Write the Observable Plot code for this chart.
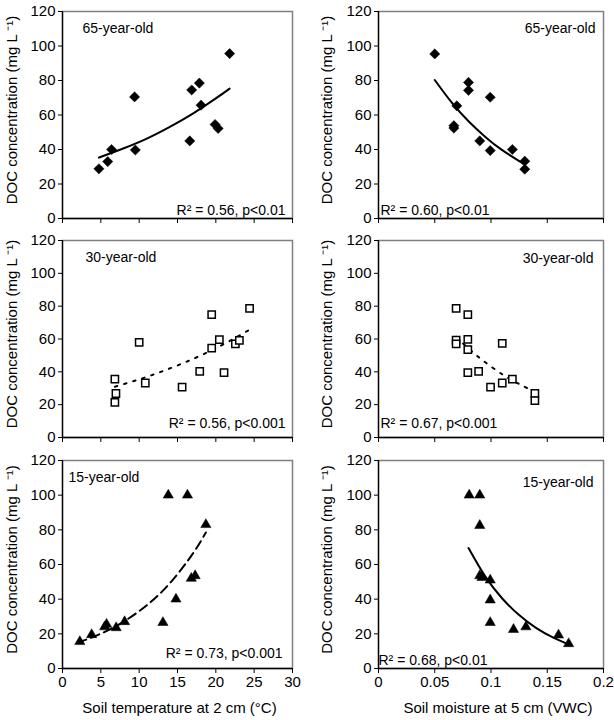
<!DOCTYPE html>
<html><head><meta charset="utf-8">
<script src="https://cdn.jsdelivr.net/npm/d3@7"></script>
<script src="https://cdn.jsdelivr.net/npm/@observablehq/plot@0.6"></script>
<style>
body{margin:0;background:#fff;}
#wrap{position:relative;width:614px;height:720px;overflow:hidden;font-family:Arial,"Liberation Sans",sans-serif;}
#wrap svg{position:absolute;overflow:visible;}
</style></head><body><div id="wrap"></div>
<script>
// ---- data ----
const yTicks = [0, 20, 40, 60, 80, 100, 120];
const tempTicks = [0, 5, 10, 15, 20, 25, 30];
const moistTicks = [0, 0.05, 0.1, 0.15, 0.2];

const yTitle = "DOC concentration (mg L \u207B\u00B9)";
const xTitleTemp = "Soil temperature at 2 cm (\u00B0C)";
const xTitleMoist = "Soil moisture at 5 cm (VWC)";

const stands = ["65-year-old", "30-year-old", "15-year-old"];
const statsTemp = ["R\u00B2 = 0.56, p<0.01", "R\u00B2 = 0.56, p<0.001", "R\u00B2 = 0.73, p<0.001"];
const statsMoist = ["R\u00B2 = 0.60, p<0.01", "R\u00B2 = 0.67, p<0.001", "R\u00B2 = 0.68, p<0.01"];

// 65-year-old
const temp65 = [4.75, 5.9, 6.4, 9.4, 9.5, 16.6, 16.85, 17.85, 18.07, 19.9, 20.3, 21.8];
const docT65 = [28.8, 33, 40, 70.5, 39.7, 45, 74.5, 78.5, 65.7, 54.5, 52.2, 95.6];
const moist65 = [0.05, 0.067, 0.067, 0.0696, 0.08, 0.08, 0.09, 0.0993, 0.0993, 0.119, 0.13, 0.13];
const docM65 = [95.4, 53.8, 52.4, 65.3, 78.9, 74.3, 45, 70.3, 39.4, 40, 33.2, 28.6];
// 30-year-old
const temp30 = [6.83, 6.97, 6.83, 10.0, 10.8, 15.6, 17.9, 19.46, 19.46, 20.46, 21.07, 22.55, 23.07, 24.4];
const docT30 = [35.6, 26.8, 21.4, 58.0, 33.2, 30.7, 40.3, 74.8, 54.5, 59.6, 39.5, 57.0, 59.1, 78.6];
const moist30 = [0.069, 0.069, 0.069, 0.0794, 0.0794, 0.0794, 0.0794, 0.089, 0.0996, 0.11, 0.11, 0.119, 0.139, 0.139];
const docM30 = [78.6, 59.3, 57.0, 74.8, 59.8, 53.5, 39.5, 40.3, 30.7, 57.4, 33.2, 35.6, 26.8, 22.4];
// 15-year-old
const temp15 = [2.26, 3.8, 5.5, 5.75, 7.0, 8.1, 13.1, 13.8, 14.8, 16.3, 16.8, 17.3, 18.7];
const docT15 = [15.5, 19.5, 24, 25.5, 23.5, 27, 26.5, 100, 40, 100, 52, 53.5, 83];
const moist15 = [0.0806, 0.09, 0.09, 0.09, 0.092, 0.0993, 0.0993, 0.0993, 0.12, 0.131, 0.16, 0.169];
const docM15 = [100, 100, 82.5, 53.5, 52.5, 51, 39.5, 26.5, 22.5, 24, 19.3, 14.3];

// trend curves, points
const trendXT65 = [4.75, 8, 11, 14, 17, 20, 21.8];
const trendYT65 = [35.3, 40.7, 46.3, 53.1, 60.8, 69.6, 75.3];
const trendXM65 = [0.05, 0.065, 0.08, 0.095, 0.11, 0.13];
const trendYM65 = [80.3, 67.3, 56.4, 47.3, 39.6, 31.3];
const trendXT30 = [6.83, 10, 13, 16, 19, 22, 24.4];
const trendYT30 = [30.9, 35.4, 40.3, 45.8, 52.1, 59.3, 65.7];
const trendXM30 = [0.069, 0.08, 0.09, 0.1, 0.11, 0.12, 0.139];
const trendYM30 = [61.4, 54.2, 48.4, 43.2, 38.5, 34.4, 27.7];
const trendXT15 = [2, 5, 8, 11, 14, 17, 18.7];
const trendYT15 = [14.9, 20.1, 27.1, 36.5, 49.2, 66.3, 78.5];
const trendXM15 = [0.08, 0.095, 0.11, 0.125, 0.14, 0.155, 0.17];
const trendYM15 = [69.5, 53.0, 40.4, 30.8, 23.4, 17.9, 13.6];

// ---- layout ----
const wrap = document.getElementById("wrap");
const zip = (xs, ys) => xs.map((x, i) => ({x, y: ys[i]}));
const cols = [
  {left: 0, width: 307, mL: 62, mR: 15, domain: [0, 30], ticks: tempTicks, fmt: d => String(d), xTitle: xTitleTemp, xTitleDx: 2, yDx: -50,
   nameAnchor: "top-left", nameTA: "start", statAnchor: "bottom-right", statTA: "end"},
  {left: 307, width: 307, mL: 71, mR: 11, domain: [0, 0.2], ticks: moistTicks, fmt: d => String(+d.toFixed(2)), xTitle: xTitleMoist, xTitleDx: 7, yDx: -51,
   nameAnchor: "top-right", nameTA: "end", statAnchor: "bottom-left", statTA: "start"}
];
const rows = [
  {top: 0, height: 230, mT: 11, mB: 12},
  {top: 230, height: 225, mT: 10, mB: 18},
  {top: 450, height: 270, mT: 10, mB: 52}
];
const panels = [
  // row, col, points, trend, symbol, nameDx, nameDy, statDx, statDy, dash
  {row: 0, col: 0, pts: zip(temp65, docT65), tr: zip(trendXT65, trendYT65), sym: "diamond", nameDx: 20, nameDy: 17, statDx: -7, statDy: -8, dash: null, name: stands[0], stat: statsTemp[0]},
  {row: 0, col: 1, pts: zip(moist65, docM65), tr: zip(trendXM65, trendYM65), sym: "diamond", nameDx: -8, nameDy: 17, statDx: 2, statDy: -8, dash: null, name: stands[0], stat: statsMoist[0]},
  {row: 1, col: 0, pts: zip(temp30, docT30), tr: zip(trendXT30, trendYT30), sym: "square", nameDx: 23, nameDy: 17, statDx: -7, statDy: -14, dash: "2.5,7", name: stands[1], stat: statsTemp[1]},
  {row: 1, col: 1, pts: zip(moist30, docM30), tr: zip(trendXM30, trendYM30), sym: "square", nameDx: -10, nameDy: 18, statDx: 2, statDy: -14, dash: "2.5,7", name: stands[1], stat: statsMoist[1]},
  {row: 2, col: 0, pts: zip(temp15, docT15), tr: zip(trendXT15, trendYT15), sym: "triangle", nameDx: 6, nameDy: 17, statDx: -10, statDy: -15, dash: "9,5", name: stands[2], stat: statsTemp[2]},
  {row: 2, col: 1, pts: zip(moist15, docM15), tr: zip(trendXM15, trendYM15), sym: "triangle", nameDx: -10, nameDy: 22, statDx: 0, statDy: -8, dash: null, name: stands[2], stat: statsMoist[2]}
];

for (const p of panels) {
  const c = cols[p.col], r = rows[p.row];
  const bottomRow = p.row === 2;
  const dotOpts = p.sym === "diamond" ? {symbol: "diamond2", r: 4.6, fill: "black", stroke: "black", strokeWidth: 0.5}
                : p.sym === "square" ? {symbol: "square", r: 4.1, fill: "white", stroke: "black", strokeWidth: 1.5}
                : {symbol: "triangle", r: 3.8, fill: "black", stroke: "black", strokeWidth: 0.5};
  const marks = [
    Plot.frame({stroke: "#808080", strokeWidth: 1.5}),
    Plot.ruleX([c.domain[0]], {stroke: "black", strokeWidth: 1.3}),
    Plot.ruleY([0], {stroke: "black", strokeWidth: 1.3}),
    Plot.axisY({ticks: yTicks, tickSize: 4, tickPadding: 3, fontSize: 15, tickFormat: d => String(d)}),
    Plot.axisX({ticks: c.ticks, tickSize: 5, tickPadding: 3, fontSize: 15, tickFormat: bottomRow ? c.fmt : () => ""}),
    Plot.text([yTitle], {frameAnchor: "left", rotate: -90, textAnchor: "middle", lineAnchor: "middle", dx: c.yDx, dy: -5, fontSize: 15}),
    Plot.line(p.tr, {x: "x", y: "y", curve: "natural", stroke: "black", strokeWidth: 2, strokeDasharray: p.dash ?? undefined}),
    Plot.dot(p.pts, {x: "x", y: "y", ...dotOpts}),
    Plot.text([p.name], {frameAnchor: c.nameAnchor, textAnchor: c.nameTA, lineAnchor: "middle", dx: p.nameDx, dy: p.nameDy, fontSize: 14}),
    Plot.text([p.stat], {frameAnchor: c.statAnchor, textAnchor: c.statTA, lineAnchor: "middle", dx: p.statDx, dy: p.statDy, fontSize: 14})
  ];
  if (bottomRow) {
    marks.push(Plot.text([c.xTitle], {frameAnchor: "bottom", textAnchor: "middle", lineAnchor: "middle", dx: c.xTitleDx, dy: 40, fontSize: 15}));
  }
  const svg = Plot.plot({
    width: c.width, height: r.height,
    marginLeft: c.mL, marginRight: c.mR, marginTop: r.mT, marginBottom: r.mB,
    x: {domain: c.domain, label: null},
    y: {domain: [0, 120], label: null},
    style: {background: "transparent", color: "black", fontFamily: "Arial, 'Liberation Sans', sans-serif", fontSize: "15px", overflow: "visible"},
    marks
  });
  svg.style.left = c.left + "px";
  svg.style.top = r.top + "px";
  wrap.appendChild(svg);
}
</script>
</body></html>
